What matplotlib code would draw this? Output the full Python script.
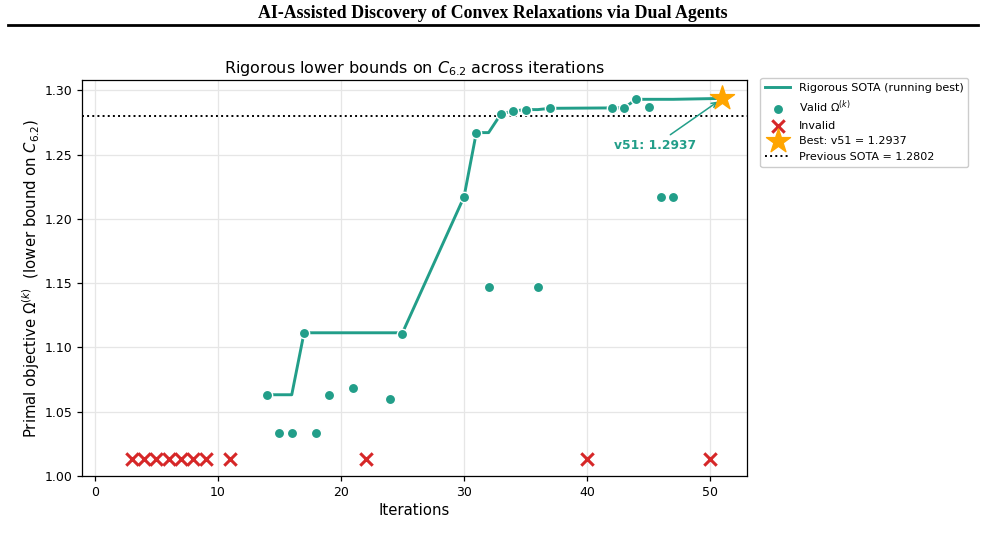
import numpy as np
import matplotlib
matplotlib.use("Agg")
import matplotlib.pyplot as plt
from matplotlib.lines import Line2D

# valid iterations and their primal objective values
valid_iters = [14, 15, 16, 17, 18, 19, 21, 24, 25, 30, 31, 32, 33, 34, 35, 36, 37,
               42, 43, 44, 45, 46, 47, 51]
valid_vals = [1.0632, 1.0335, 1.0335, 1.1114, 1.0335, 1.0632, 1.0685, 1.0601, 1.1104,
              1.2171, 1.2671, 1.1472, 1.2816, 1.2839, 1.2850, 1.1472, 1.2860,
              1.2863, 1.2862, 1.2930, 1.2873, 1.2171, 1.2171, 1.2937]

invalid_iters = [3, 4, 5, 6, 7, 8, 9, 11, 22, 40, 50]
invalid_level = 1.013

best_iter = 51
best_val = 1.2937
prev_sota = 1.2802

teal = "#229e89"
red = "#d62728"
orange = "#ffa500"

running_best = np.maximum.accumulate(valid_vals)

fig = plt.figure(figsize=(9.85, 5.47), dpi=100)

# page header (screenshot of paper)
fig.text(0.5, 0.975, "AI-Assisted Discovery of Convex Relaxations via Dual Agents",
         ha="center", va="center", family="Liberation Serif", weight="bold", fontsize=12.9)
fig.add_artist(Line2D([0.008, 0.993], [0.954, 0.954], color="black", lw=2))

ax = fig.add_axes([0.0832, 0.1298, 0.6752, 0.7239])

ax.grid(True, color="#e6e6e6", lw=0.9)
ax.set_axisbelow(True)
for sp in ax.spines.values():
    sp.set_linewidth(0.9)

ax.plot(valid_iters, running_best, color=teal, lw=2.1, zorder=2,
        label="Rigorous SOTA (running best)")
ax.scatter(valid_iters[:-1], valid_vals[:-1], s=55, color=teal, edgecolor="white",
           linewidth=1.0, zorder=3, label=r"Valid $\Omega^{(k)}$")
ax.scatter(invalid_iters, [invalid_level] * len(invalid_iters), marker="x", s=80,
           color=red, linewidth=2.2, zorder=3, label="Invalid")
ax.scatter([best_iter], [best_val], marker="*", s=330, color=orange, zorder=4,
           label=f"Best: v{best_iter} = {best_val:.4f}")
ax.axhline(prev_sota, color="black", ls=":", lw=1.4, zorder=1,
           label=f"Previous SOTA = {prev_sota:.4f}")

ax.annotate(f"v{best_iter}: {best_val:.4f}", xy=(best_iter, best_val),
            xytext=(45.5, 1.257), ha="center", va="center", color=teal,
            fontsize=8.8, weight="bold",
            arrowprops=dict(arrowstyle="->", color=teal, lw=1.1,
                            shrinkA=2, shrinkB=4))

ax.set_xlim(-1.05, 53)
ax.set_ylim(1.0, 1.308)
ax.set_yticks(np.arange(1.0, 1.301, 0.05))
ax.yaxis.set_major_formatter(matplotlib.ticker.FormatStrFormatter("%.2f"))
ax.tick_params(labelsize=9, width=0.9)

ax.set_title(r"Rigorous lower bounds on $C_{6.2}$ across iterations", fontsize=11.5, pad=5)
ax.set_xlabel("Iterations", fontsize=10.7, labelpad=3)
ax.set_ylabel(r"Primal objective $\Omega^{(k)}$  (lower bound on $C_{6.2}$)",
              fontsize=10.7, labelpad=2)

ax.legend(loc="upper left", bbox_to_anchor=(1.02, 1.005), borderaxespad=0,
          fontsize=8, framealpha=1, edgecolor="#cccccc", borderpad=0.45,
          labelspacing=0.5, handlelength=2.2, handletextpad=0.8)

fig.savefig("out.png", dpi=100)
